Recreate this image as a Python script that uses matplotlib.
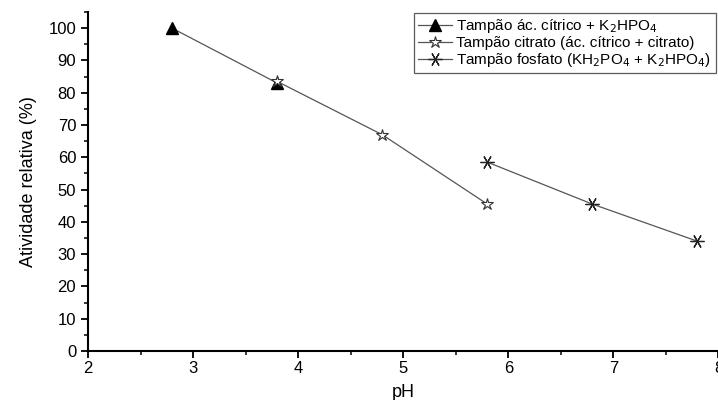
import matplotlib.pyplot as plt
from matplotlib.ticker import MultipleLocator

plt.rcParams['font.family'] = ['Liberation Sans', 'DejaVu Sans']

ph_acido = [2.8, 3.8]
act_acido = [100, 83]
ph_citrato = [3.8, 4.8, 5.8]
act_citrato = [83.5, 67, 45.5]
ph_fosfato = [5.8, 6.8, 7.8]
act_fosfato = [58.5, 45.5, 34]

labels = ['Tampão ác. cítrico + K$_2$HPO$_4$',
          'Tampão citrato (ác. cítrico + citrato)',
          'Tampão fosfato (KH$_2$PO$_4$ + K$_2$HPO$_4$)']

fig = plt.figure(figsize=(7.18, 4), dpi=100)
ax = fig.add_axes([0.1226, 0.1225, 0.878, 0.8475])

lc = '#555555'
ax.plot(ph_acido, act_acido, color=lc, lw=0.9, marker='^', ms=9,
        mfc='k', mec='k', label=labels[0])
ax.plot(ph_citrato, act_citrato, color=lc, lw=0.9, marker='*', ms=9,
        mfc='white', mec='#333333', mew=0.8, label=labels[1])
ax.plot(ph_fosfato, act_fosfato, color=lc, lw=0.9, marker=(6, 2, 90), ms=10,
        mec='#222222', mew=0.9, label=labels[2])

ax.set_xlim(2, 8)
ax.set_ylim(0, 105)
ax.xaxis.set_major_locator(MultipleLocator(1))
ax.xaxis.set_minor_locator(MultipleLocator(0.5))
ax.yaxis.set_major_locator(MultipleLocator(10))
ax.yaxis.set_minor_locator(MultipleLocator(5))
for s in ['top', 'right']:
    ax.spines[s].set_visible(False)
for s in ['left', 'bottom']:
    ax.spines[s].set_linewidth(1.5)
ax.tick_params(which='major', direction='out', length=5, width=1.3, labelsize=12)
ax.tick_params(which='minor', direction='out', length=3, width=1.1)
ax.tick_params(axis='x', pad=2)

ax.set_xlabel('pH', fontsize=13, labelpad=6)
ax.set_ylabel('Atividade relativa (%)', fontsize=13, labelpad=8)

leg = ax.legend(loc='upper right', bbox_to_anchor=(0.997, 0.968),
                bbox_transform=fig.transFigure, fontsize=11,
                frameon=True, fancybox=False, edgecolor='#333333',
                handlelength=2.2, handletextpad=0.3, borderpad=0.3,
                labelspacing=0.05, borderaxespad=0)
leg.get_frame().set_linewidth(0.9)

fig.savefig('out.png', dpi=100)
